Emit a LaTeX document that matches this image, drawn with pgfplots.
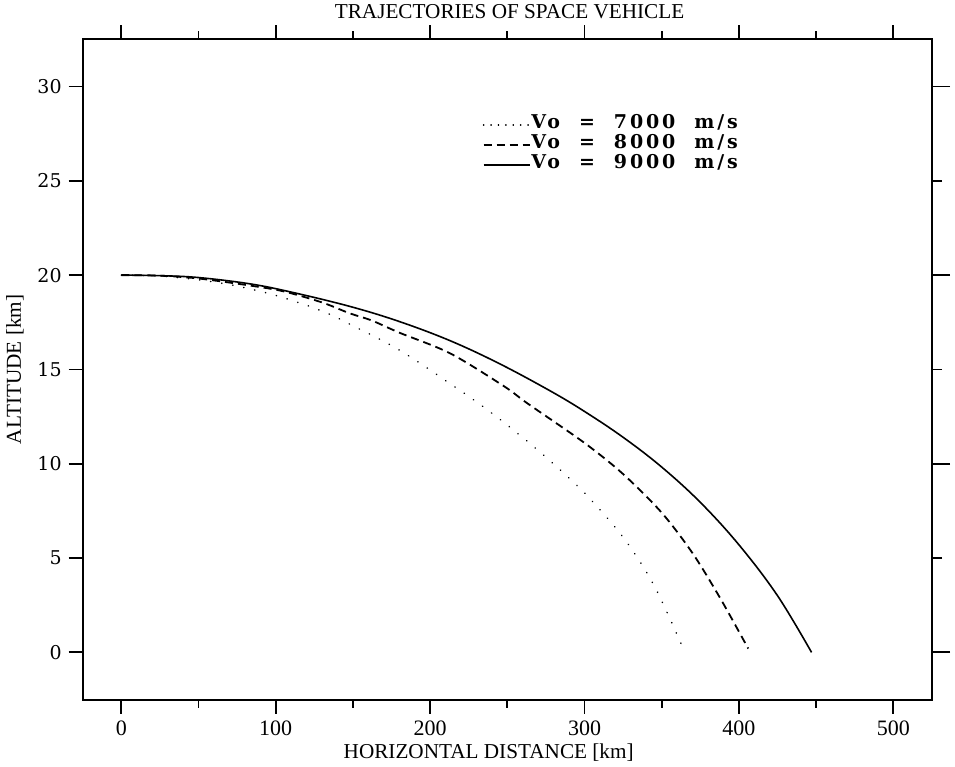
\documentclass[border=0pt]{standalone}
\usepackage{fontspec}
\setmainfont{Liberation Serif}
\newfontfamily\yfont{DejaVu Serif}
\newfontfamily\legfont[LetterSpace=15]{DejaVu Serif}
\usepackage{pgfplots}
\pgfplotsset{compat=1.18}

\begin{document}
\begin{tikzpicture}
\begin{axis}[
  name=main,
  scale only axis, width=424.5pt, height=330pt,
  xmin=-25, xmax=525, ymin=-2.5, ymax=32.5,
  xtick={0,100,...,500}, minor xtick={50,150,...,450},
  ytick={0,5,...,30},
  xtick pos=both, ytick pos=left,
  tick align=outside,
  major tick length=7pt, minor tick length=4pt,
  every tick/.style={black, line width=0.9pt},
  axis line style={line width=1pt},
  /pgf/number format/assume math mode=true,
  xticklabel style={font=\fontsize{11}{13}\selectfont},
  yticklabel style={font=\yfont\fontsize{9.5}{11}\selectfont},
  xlabel={HORIZONTAL DISTANCE [km]},
  ylabel={ALTITUDE [km]},
  label style={font=\fontsize{10.6}{12}\selectfont},
  xlabel style={at={(axis description cs:0.478,-0.0803)}, anchor=center},
  ylabel style={at={(axis description cs:-0.0797,0.5)}, anchor=center},
  legend style={at={(axis cs:234,28.5)}, anchor=north west, draw=none, fill=none,
                inner sep=0pt, outer sep=0pt, row sep=0pt,
                font=\legfont\bfseries\fontsize{9.5}{10}\selectfont,
                nodes={inner sep=0.5pt, text height=6.5pt, text depth=2.5pt}},
  legend cell align=left,
  legend image code/.code={\draw[#1] (0pt,0pt) -- (23pt,0pt);},
]
% Vo = 7000 m/s
\addplot[black, line width=0.8pt, line cap=round, dash pattern=on 0.1pt off 5.5pt,
  smooth, tension=0.5,
  legend image code/.code={\draw[black, line width=0.8pt, line cap=round,
    dash pattern=on 0.1pt off 3.6pt] (0pt,0pt) -- (23pt,0pt);}] coordinates {
  (0,20) (25,19.95) (50,19.75) (70,19.5) (90,19.14) (105,18.8) (122,18.34)
  (137,17.85) (151,17.27) (165,16.7) (180,16.03) (194,15.3) (208,14.52)
  (229.5,13.31) (250,12.05) (275,10.35) (300,8.45) (325,6.1) (345,3.55) (365,0)
};
\addlegendentry{Vo\hspace{1em}=\hspace{1em}7000\hspace{1em}m/s}
% Vo = 8000 m/s
\addplot[black, line width=0.9pt, dash pattern=on 4pt off 2.5pt, smooth, tension=0.5] coordinates {
  (0,20) (25,19.97) (50,19.82) (83,19.45) (105,19.14) (130,18.55) (148,17.97)
  (162,17.6) (180,16.95) (213,15.85) (248,14.1) (263,13.2) (300,11.1)
  (325,9.45) (350,7.4) (370,5.25) (388,2.85) (406,0.2)
};
\addlegendentry{Vo\hspace{1em}=\hspace{1em}8000\hspace{1em}m/s}
% Vo = 9000 m/s
\addplot[black, line width=0.8pt, smooth, tension=0.6] coordinates {
  (0,20) (25,19.97) (50,19.87) (83,19.54) (110,19.1) (148,18.34) (180,17.54)
  (213,16.52) (245,15.3) (278,13.85) (300,12.77) (325,11.4) (350,9.82)
  (375,7.95) (400,5.7) (425,3.0) (447,0)
};
\addlegendentry{Vo\hspace{1em}=\hspace{1em}9000\hspace{1em}m/s}
\end{axis}
\begin{axis}[
  scale only axis, width=424.5pt, height=330pt,
  xmin=-25, xmax=525, ymin=-2.5, ymax=32.5,
  axis x line=none, axis y line*=right,
  axis line style={line width=1pt, -},
  ytick={0,10,20,30}, minor ytick={5,15,25}, yticklabels={},
  tick align=outside,
  major tick length=9pt, minor tick length=5pt,
  every tick/.style={black, line width=0.9pt},
]
\end{axis}
\node[font=\fontsize{10.6}{12}\selectfont, anchor=center]
  at ([xshift=1.1pt,yshift=13.65pt]main.north) {TRAJECTORIES OF SPACE VEHICLE};
\pgfresetboundingbox
\path[use as bounding box] ([xshift=-41.35pt,yshift=-33.5pt]main.south west)
  rectangle ([xshift=11.5pt,yshift=19.65pt]main.north east);
\end{tikzpicture}
\end{document}
